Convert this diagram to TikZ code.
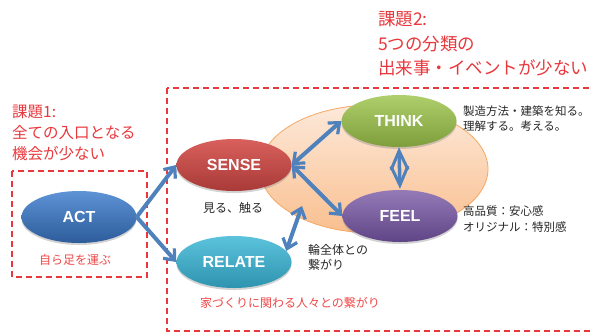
\documentclass[tikz,border=0pt]{standalone}
\usepackage{fontspec}
\setmainfont{Noto Sans CJK JP}
\newfontfamily\labfont{Liberation Sans}
\usetikzlibrary{shapes.geometric,arrows.meta,shadows}
\definecolor{ttred}{HTML}{E8383D}
\definecolor{txred}{HTML}{F04848}
\definecolor{arr}{HTML}{4F81BD}
\definecolor{actT}{HTML}{5E93D6}\definecolor{actB}{HTML}{2C5C9A}
\definecolor{senT}{HTML}{D9605C}\definecolor{senB}{HTML}{A83A37}
\definecolor{relT}{HTML}{5CC3DD}\definecolor{relB}{HTML}{2E93AE}
\definecolor{thiT}{HTML}{AECF6C}\definecolor{thiB}{HTML}{7E9E3C}
\definecolor{feeT}{HTML}{957AB8}\definecolor{feeB}{HTML}{5F4585}
\definecolor{bgT}{HTML}{FDE9DA}\definecolor{bgB}{HTML}{F9BF8F}
\definecolor{bgD}{HTML}{F5A864}
\tikzset{
  oval/.style={ellipse, minimum width=115, minimum height=52, inner sep=0,
    font=\labfont\bfseries\fontsize{16}{16}\selectfont, text=white,
    drop shadow={opacity=0.35, shadow xshift=0pt, shadow yshift=-2pt}},
  redbox/.style={draw=ttred, line width=1.5pt, dash pattern=on 6pt off 4pt},
  tip/.style={Straight Barb[length=9pt,width=15pt,line width=3.2pt]},
  link/.style={draw=arr, line width=4pt, {Straight Barb[length=9pt,width=15pt,line width=3.2pt]}-{Straight Barb[length=9pt,width=15pt,line width=3.2pt]}},
  linkone/.style={draw=arr, line width=4pt, -{Straight Barb[length=9pt,width=15pt,line width=3.2pt]}},
  title/.style={anchor=west, align=left, inner sep=0, text=ttred},
  note/.style={align=left, inner sep=0, text=black!85, font=\fontsize{11.5}{15.5}\selectfont},
}
\begin{document}
\begin{tikzpicture}[x=1pt,y=-1pt]
\useasboundingbox (0,0) rectangle (592,333);
\fill[white] (0,0) rectangle (592,333);
% dashed frames
\draw[redbox] (167,88) rectangle (620,331);
\draw[redbox] (12,171) rectangle (147,277);
% titles
\node[title, font=\fontsize{15.5}{21}\selectfont] (t1) at (12,133) {課題1:\\全ての入口となる\\機会が少ない};
\node[title, font=\fontsize{17.5}{24.5}\selectfont] (t2) at (378,44) {課題2:\\5つの分類の\\出来事・イベントが少ない};
% background ellipse
\node[ellipse, minimum width=228, minimum height=128, inner sep=0, draw=bgD, line width=0.8pt,
  top color=bgT, bottom color=bgB] (bg) at (374,169) {};
% ovals
\node[oval, top color=actT, bottom color=actB] (act) at (79,217) {ACT};
\node[oval, top color=senT, bottom color=senB] (sense) at (234,165) {SENSE};
\node[oval, top color=relT, bottom color=relB] (relate) at (234,262) {RELATE};
\node[oval, top color=thiT, bottom color=thiB] (think) at (399,121) {THINK};
\node[oval, top color=feeT, bottom color=feeB] (feel) at (400,216) {FEEL};
% notes
\node[note, text=txred, font=\fontsize{12}{15}\selectfont] (n1) at (75,260) {自ら足を運ぶ};
\node[note, font=\fontsize{12}{15}\selectfont] (n2) at (233,207.5) {見る、触る};
\node[note, anchor=west, font=\fontsize{12}{15}\selectfont] (n3) at (308,257.5) {輪全体との\\繋がり};
\node[note, text=txred, font=\fontsize{12}{15}\selectfont] (n4) at (290,302.5) {家づくりに関わる人々との繋がり};
\node[note, anchor=west, font=\fontsize{11.5}{15}\selectfont] (n5) at (463,118.5) {製造方法・建築を知る。\\理解する。考える。};
\node[note, anchor=west, font=\fontsize{11.5}{16}\selectfont] (n6) at (463,219) {高品質：安心感\\オリジナル：特別感};
% connectors
\coordinate (rc) at (302,206);
\path[linkone] (act.east) -- (sense.west);
\path[linkone] (act.east) -- (relate.west);
\path[link] (sense.east) -- (think.west);
\path[link] (sense.east) -- (feel.west);
\path[link] (relate.12) -- (rc);
\path[draw=arr, line width=3.5pt, shorten <=0pt, shorten >=1pt,
  {Straight Barb[length=19pt,width=17pt,line width=3pt]}-{Straight Barb[length=19pt,width=17pt,line width=3pt]}] (think.south) -- (feel.north);
\end{tikzpicture}
\end{document}
